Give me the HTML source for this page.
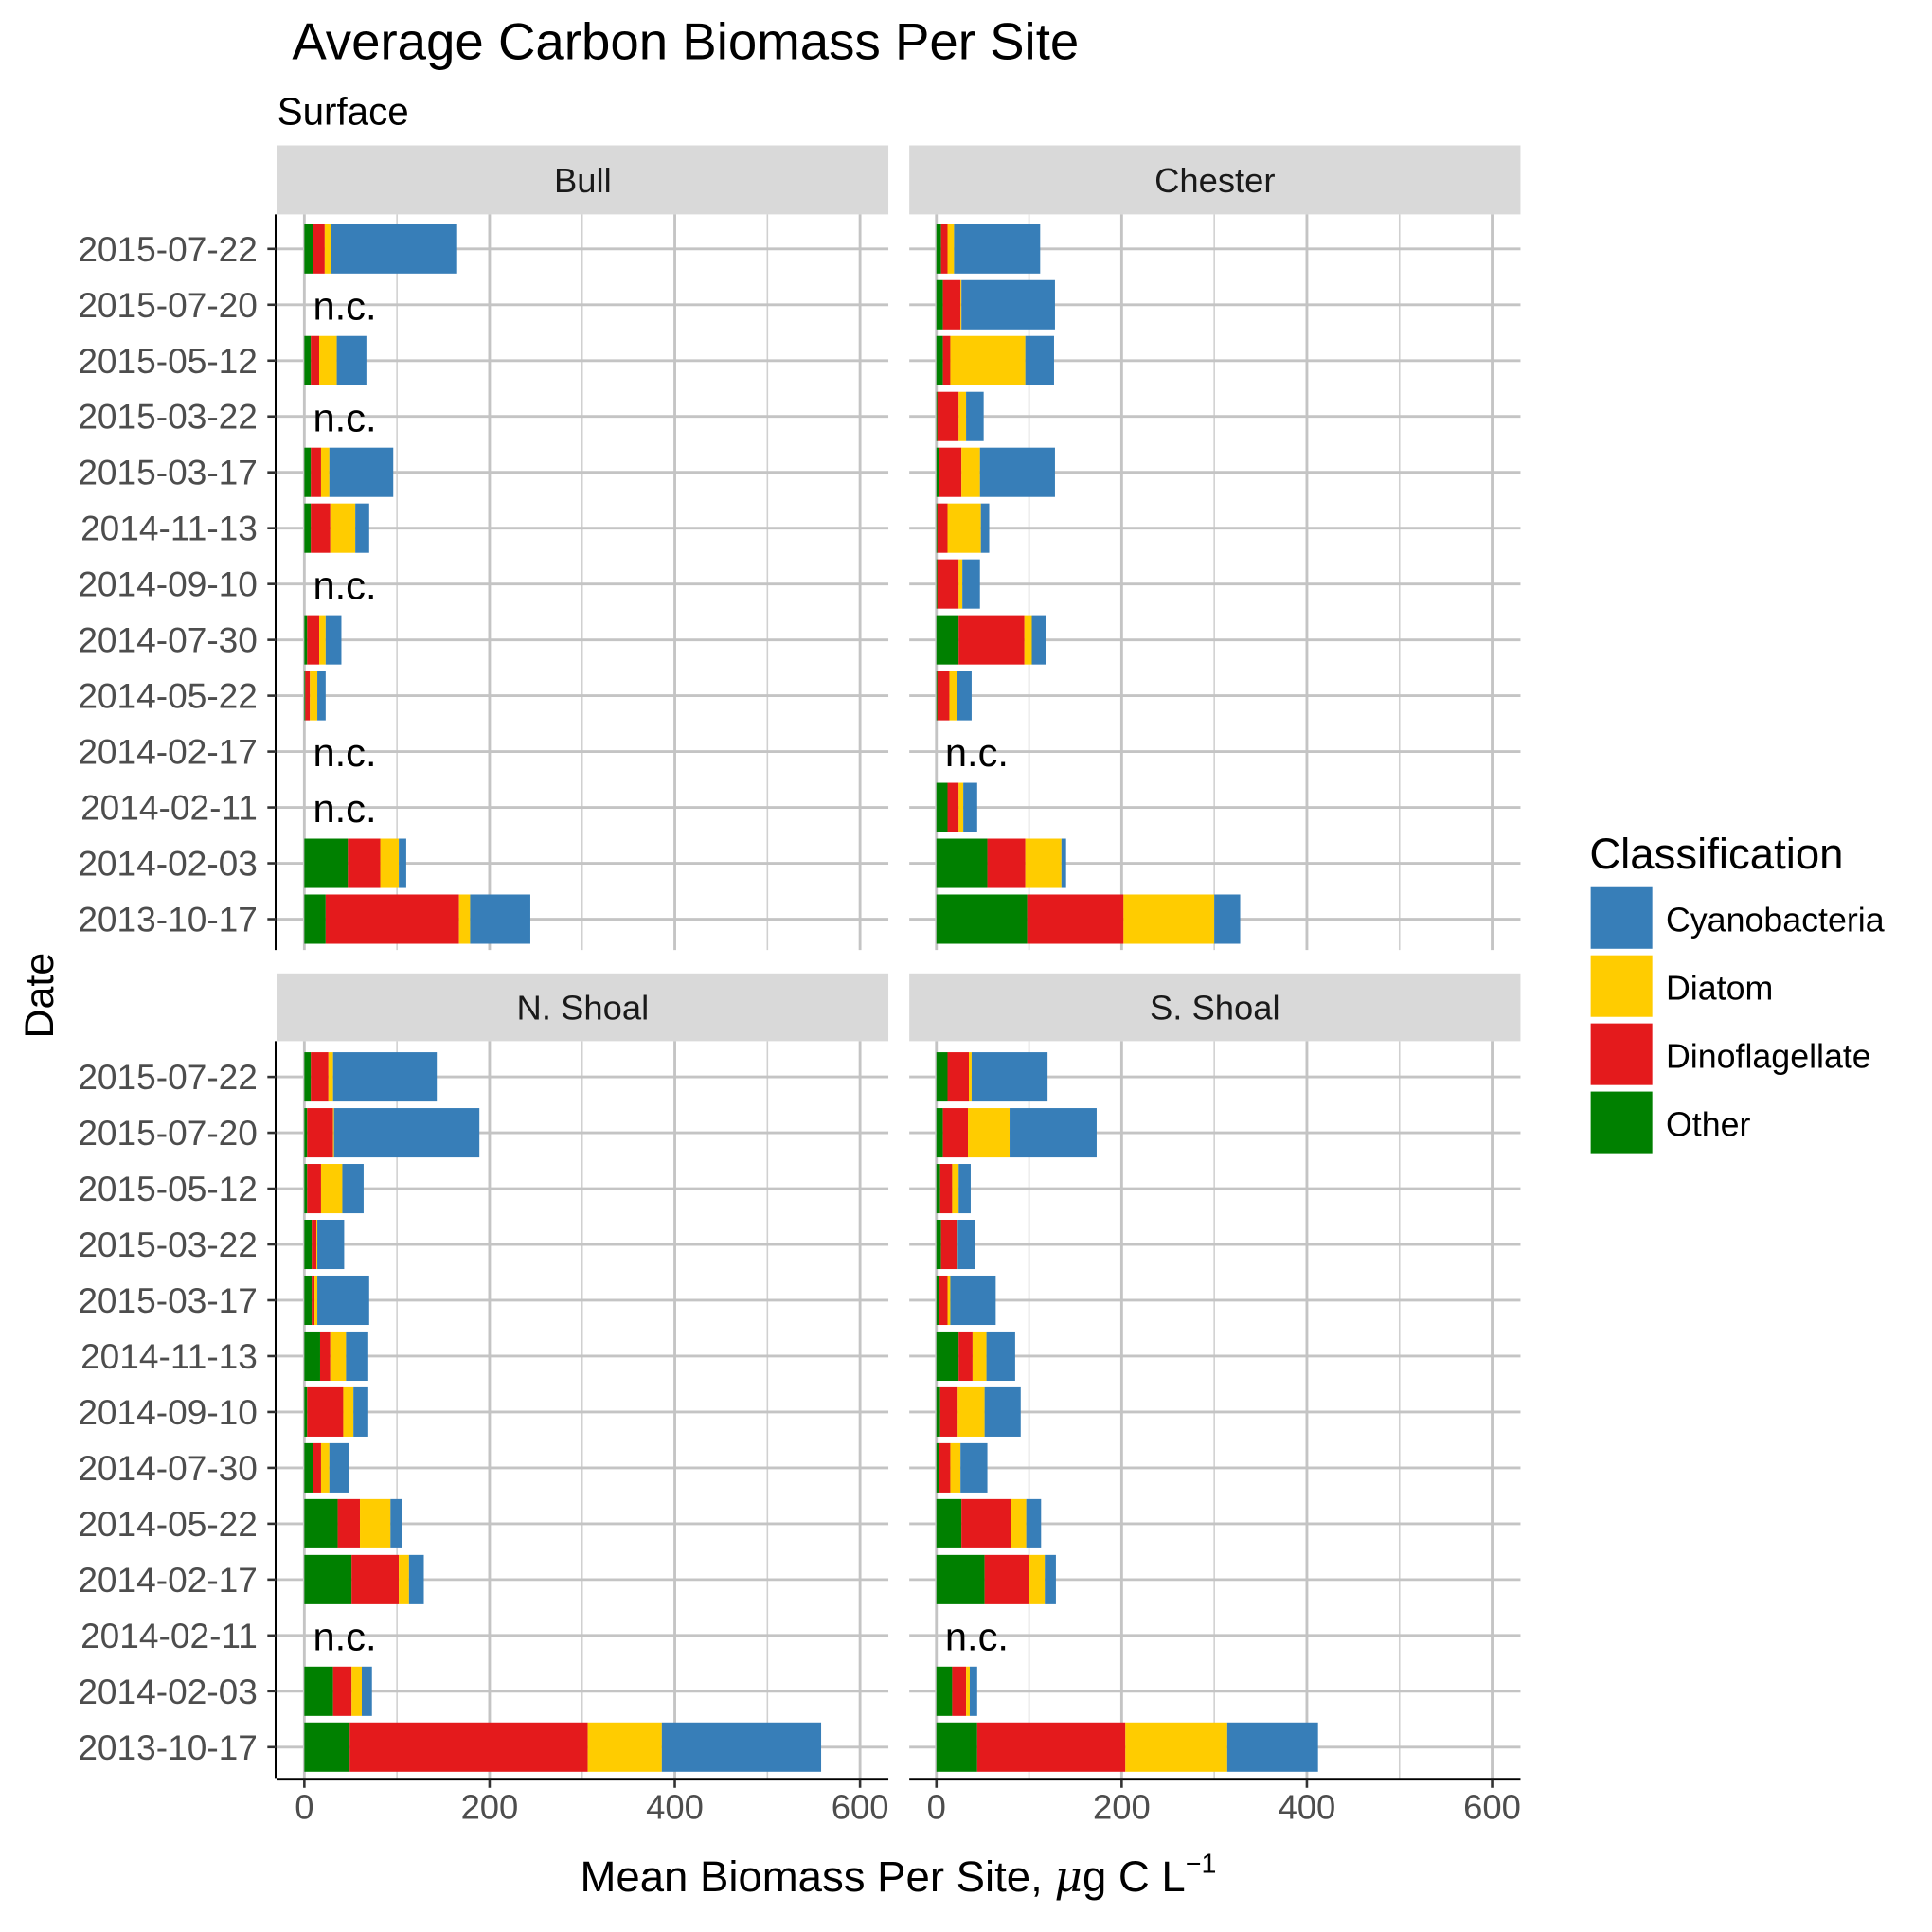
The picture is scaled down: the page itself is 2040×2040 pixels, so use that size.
<!DOCTYPE html>
<html><head><meta charset="utf-8"><style>
html,body{margin:0;padding:0;background:#fff}
svg{display:block;font-family:"Liberation Sans",Arial,sans-serif}
</style></head><body>
<svg id="chart" width="2040" height="2040" viewBox="0 0 1568 1568" xmlns="http://www.w3.org/2000/svg">
<text x="237" y="48" font-size="42" fill="#000">Average Carbon Biomass Per Site</text>
<text x="225" y="101" font-size="31" fill="#000">Surface</text>
<text transform="translate(43,808) rotate(-90)" text-anchor="middle" font-size="33">Date</text>
<text x="729" y="1535" text-anchor="middle" font-size="35">Mean Biomass Per Site, <tspan font-family="'DejaVu Serif',serif" font-style="italic">μ</tspan>g C L<tspan font-size="22" dy="-15">−1</tspan></text>
<g id="panels"></g>
<g id="legend">
<text x="1290" y="705" font-size="35">Classification</text>
</g>
</svg>
<script>
const dates = ["2015-07-22","2015-07-20","2015-05-12","2015-03-22","2015-03-17","2014-11-13","2014-09-10","2014-07-30","2014-05-22","2014-02-17","2014-02-11","2014-02-03","2013-10-17"];
const classes = ["Other","Dinoflagellate","Diatom","Cyanobacteria"];
const sites = ["Bull","Chester","N. Shoal","S. Shoal"];
const xTicks = [0,200,400,600];
// per row: [Other, Dinoflagellate, Diatom, Cyanobacteria]; null = n.c.
const bull = [[9,13,7,136],null,[7,9,19,32],null,[7,11,9,69],[7,21,27,15],null,[3,13,7,17],[1,5,8,9],null,null,[47,35,20,8],[23,144,12,65]];
const chester = [[5,7,7,93],[7,19,1,101],[7,8,81,31],[1,23,8,19],[3,24,20,81],[1,11,36,9],[1,23,4,19],[24,71,8,15],[1,13,8,16],null,[12,12,5,15],[55,41,39,5],[98,104,98,28]];
const nShoal = [[7,19,5,112],[3,28,1,157],[3,15,23,23],[8,5,1,29],[8,3,3,56],[17,11,17,24],[3,39,11,16],[9,9,9,21],[36,24,33,12],[51,51,11,16],null,[31,20,11,11],[49,257,80,172]];
const sShoal = [[12,23,3,82],[7,27,45,94],[4,13,7,13],[5,17,1,19],[3,9,3,49],[24,15,15,31],[4,19,29,39],[3,12,11,29],[27,53,17,16],[52,48,17,12],null,[17,15,4,8],[44,160,110,98]];
const siteData = [bull, chester, nShoal, sShoal];
const colors = ["#008000","#e41a1c","#ffcc00","#377eb8"];

const NS="http://www.w3.org/2000/svg";
function mk(tag, attrs, parent){const e=document.createElementNS(NS,tag);for(const k in attrs)e.setAttribute(k,attrs[k]);parent.appendChild(e);return e;}
const root=document.getElementById('panels');
const panelX=[225,738], panelW=496;
const panelY=[[118,174,771],[790,845,1443]];
const rowTop=[202,874], rowStep=45.33, barH=40;
const scaleK=451/600;
sites.forEach((site,si)=>{
  const col=si%2,row=Math.floor(si/2);
  const x0=panelX[col], [sy,py,pb]=panelY[row];
  const g=mk('g',{},root);
  
  
  const strip=mk('rect',{x:x0,y:sy,width:panelW,height:py-sy,fill:'#d9d9d9'},g);
  
  
  const st=mk('text',{x:x0+panelW/2,y:(sy+py)/2+10,'text-anchor':'middle','font-size':28,fill:'#1a1a1a'},g);
  
  
  st.textContent=site;
  const xs=v=>x0+22+v*scaleK;
  [100,300,500].forEach(v=>{const l=mk('line',{x1:xs(v),x2:xs(v),y1:py,y2:pb,stroke:'#d0d0d0','stroke-width':1.2},g);
    });
  xTicks.forEach(v=>{const l=mk('line',{x1:xs(v),x2:xs(v),y1:py,y2:pb,stroke:'#c4c4c4','stroke-width':2.2},g);
    });
  dates.forEach((d,i)=>{const y=rowTop[row]+i*rowStep;
    const l=mk('line',{x1:x0,x2:x0+panelW,y1:y,y2:y,stroke:'#c4c4c4','stroke-width':2.2},g);
    });
  const data=siteData[si];
  dates.forEach((d,i)=>{const y=rowTop[row]+i*rowStep;const vals=data[i];
    if(!vals){const t=mk('text',{x:x0+29,y:y+12,'font-size':32,fill:'#000'},g);
      t.textContent='n.c.';return;}
    let acc=0;
    vals.forEach((v,k)=>{const r=mk('rect',{x:xs(acc),y:y-barH/2,width:Math.max(0,xs(acc+v)-xs(acc)),height:barH,fill:colors[k]},g);
      
      
      acc+=v;});
  });
  if(col===0){
    const a=mk('line',{x1:x0-1,x2:x0-1,y1:py,y2:pb,stroke:'#000','stroke-width':2.2},g);
    
    dates.forEach((d,i)=>{const y=rowTop[row]+i*rowStep;
      mk('line',{x1:x0-8,x2:x0-1,y1:y,y2:y,stroke:'#333','stroke-width':2},g);
      const t=mk('text',{x:x0-16,y:y+10,'text-anchor':'end','font-size':28.5,fill:'#4d4d4d'},g);
      t.textContent=d;});
  }
  if(row===1){
    const a=mk('line',{x1:x0,x2:x0+panelW,y1:pb+1,y2:pb+1,stroke:'#000','stroke-width':2.2},g);
    
    xTicks.forEach(v=>{mk('line',{x1:xs(v),x2:xs(v),y1:pb+1,y2:pb+8,stroke:'#333','stroke-width':2},g);
      const t=mk('text',{x:xs(v),y:pb+33,'text-anchor':'middle','font-size':28,fill:'#4d4d4d'},g);
      t.textContent=v;});
  }
});
const leg=document.getElementById('legend');
["Cyanobacteria","Diatom","Dinoflagellate","Other"].forEach((c,i)=>{
  const y=720+i*55.3;
  const r=mk('rect',{x:1291,y:y,width:50,height:50,fill:colors[classes.indexOf(c)]},leg);
  
  const t=mk('text',{x:1352,y:y+36,'font-size':27.5,fill:'#000'},leg);
  t.textContent=c;
});
</script>
</body></html>
